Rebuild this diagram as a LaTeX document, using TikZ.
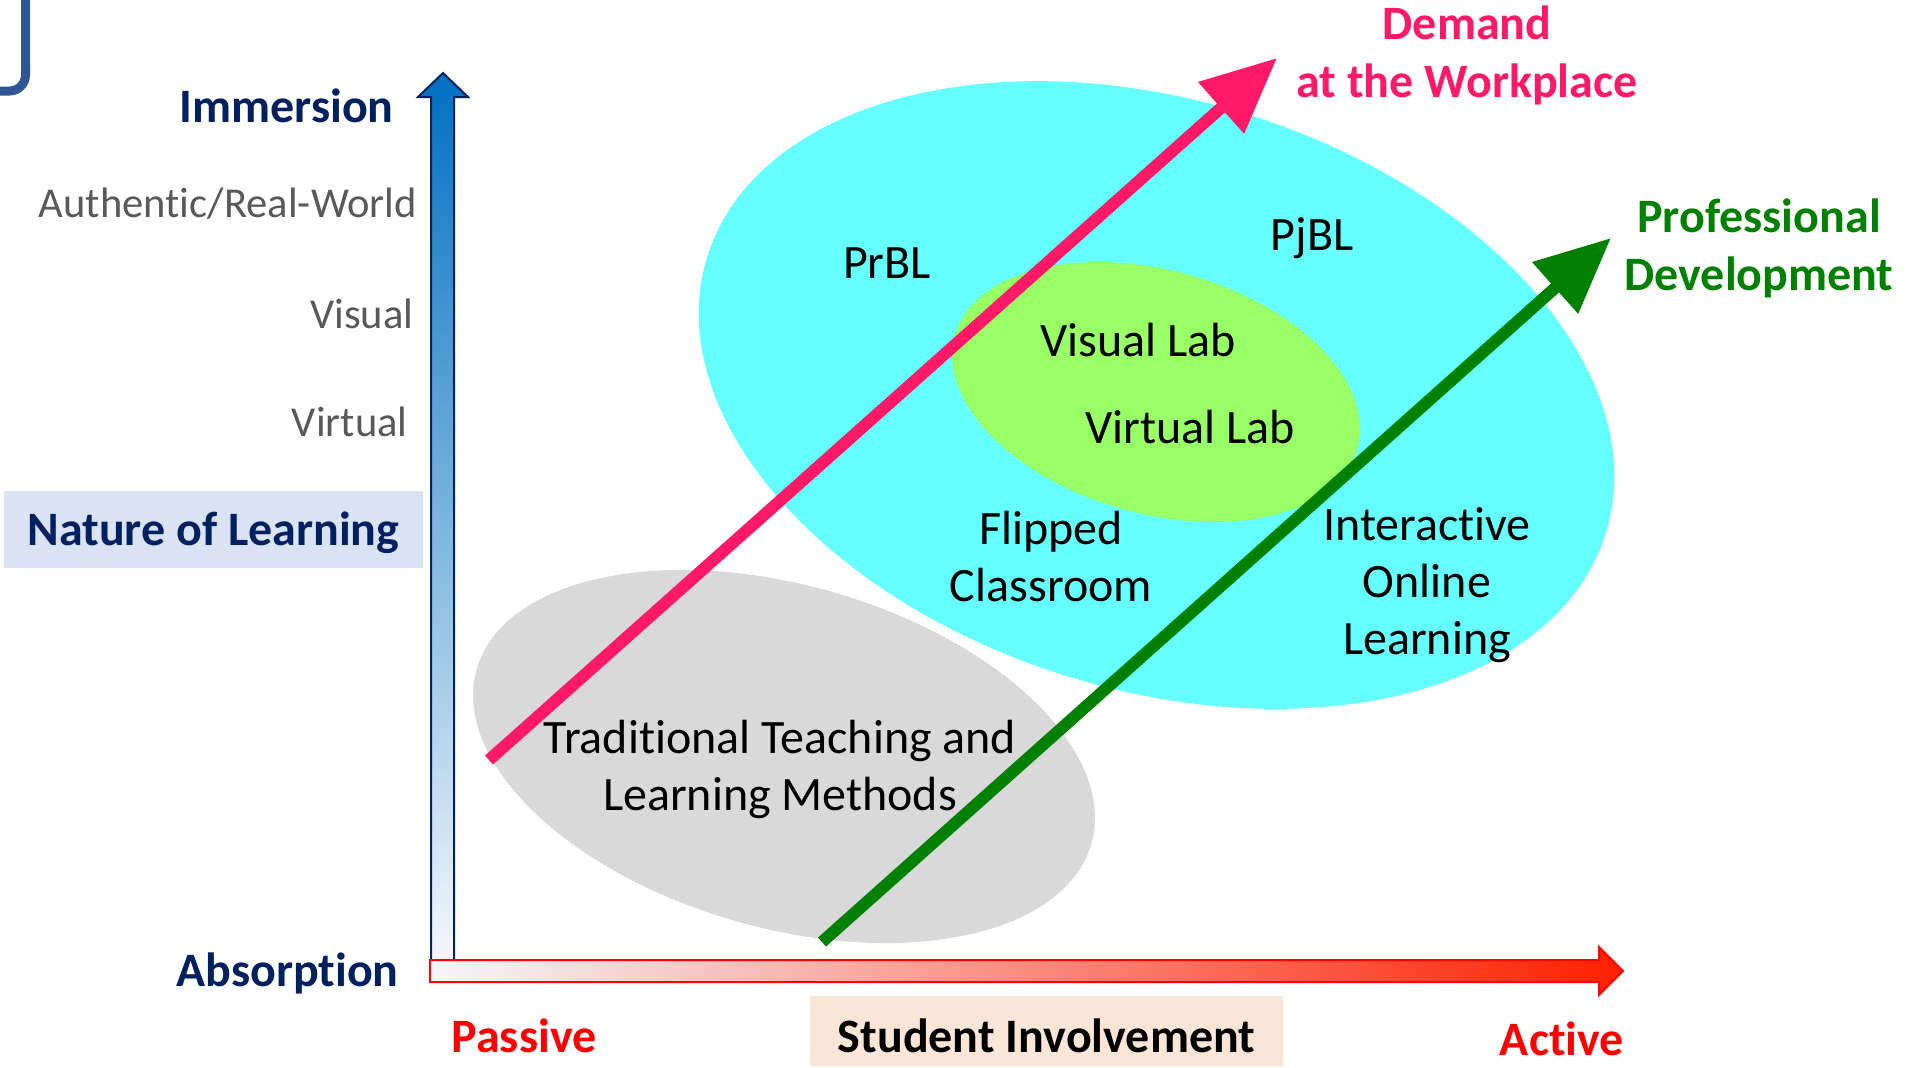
\documentclass[tikz,border=0pt]{standalone}
\usepackage{fontspec}
\setmainfont{Carlito}[Ligatures=NoCommon]
\usetikzlibrary{arrows.meta,shapes.geometric}
\definecolor{navy}{HTML}{002060}
\definecolor{levelgray}{HTML}{595959}
\definecolor{axisblue}{HTML}{0070C0}
\definecolor{axislight}{HTML}{F4F7FC}
\definecolor{axisred}{HTML}{FF2000}
\definecolor{axismid}{HTML}{F9CDD2}
\definecolor{natureblue}{HTML}{DAE3F3}
\definecolor{involvebg}{HTML}{FBE5D6}
\definecolor{demandpink}{HTML}{FF1966}
\definecolor{profgreen}{HTML}{008000}
\definecolor{cyanblob}{HTML}{66FFFF}
\definecolor{limeblob}{HTML}{99FF66}
\definecolor{grayblob}{HTML}{D9D9D9}
\definecolor{framecol}{HTML}{2F5597}
\begin{document}
\begin{tikzpicture}[x=0.5pt,y=-0.5pt,
  blob/.style={ellipse, inner sep=0pt, draw=none},
  inlbl/.style={font=\fontsize{24}{28.5}\selectfont, text=black, align=center, inner sep=0pt},
  boldlbl/.style={font=\fontsize{24}{29}\selectfont\bfseries, align=center, inner sep=0pt},
  levellbl/.style={font=\fontsize{21.3}{26}\selectfont, text=levelgray, inner sep=0pt},
  trend/.style={line width=6pt, -{Triangle[width=33pt,length=37.5pt]}},
]
\useasboundingbox (0,0) rectangle (1908,1067);

% corner of a frame
\draw[framecol, line width=4.5pt, rounded corners=8pt] (25.5,-30) -- (25.5,91) -- (-30,91);

% learning-method regions
\node[blob, fill=grayblob, minimum width=319.5pt, minimum height=171.5pt, rotate=-15.8] (trad) at (784,756.5) {};
\node[blob, fill=cyanblob, minimum width=470pt, minimum height=295pt, rotate=-17] (active) at (1156.5,395) {};
\node[blob, fill=limeblob, minimum width=209pt, minimum height=121.7pt, rotate=-15.6] (lab) at (1156,392) {};

% vertical axis
\path[draw=navy, line width=1pt, top color=axisblue, bottom color=axislight]
  (431,960) -- (431,97) -- (418,97) -- (443,73) -- (468,97) -- (454,97) -- (454,960) -- cycle;
% horizontal axis
\path[draw=red, line width=1pt, left color=axislight, middle color=axismid, right color=axisred]
  (430,960) -- (1599,960) -- (1599,947) -- (1623,971) -- (1599,995) -- (1599,982) -- (430,982) -- cycle;

% trend arrows
\coordinate (pinkS) at (489,760);
\coordinate (pinkE) at (1277,58);
\coordinate (greenS) at (822,942);
\coordinate (greenE) at (1611,238);
\draw[trend, demandpink] (pinkS) -- (pinkE);
\draw[trend, profgreen] (greenS) -- (greenE);

% axis labels
\node[boldlbl, text=navy, anchor=base east] (imm) at (394,122) {Immersion};
\node[levellbl, anchor=base east] (auth) at (417,217) {Authentic/Real-World};
\node[levellbl, anchor=base east] (vis) at (414,328) {Visual};
\node[levellbl, anchor=base east] (virt) at (408,436) {Virtual};
\node[boldlbl, text=navy, fill=natureblue, minimum width=209.5pt, minimum height=38.5pt,
      text height=20pt, text depth=4.5pt] (nature) at (213.5,529.5) {Nature of Learning};
\node[boldlbl, text=navy, anchor=base east] (abs) at (399,986) {Absorption};
\node[boldlbl, text=red, anchor=base] (pass) at (524,1052) {Passive};
\node[boldlbl, text=black, fill=involvebg, minimum width=236.5pt, minimum height=35pt,
      text height=21pt, text depth=0pt] (inv) at (1046.5,1031) {Student Involvement};
\node[boldlbl, text=red, anchor=base] (act) at (1562,1055) {Active};

% arrow labels (anchored at the baseline of the last line)
\node[boldlbl, text=demandpink, anchor=base] (demand) at (1467,97) {Demand\\at the Workplace};
\node[boldlbl, text=profgreen, anchor=base] (prof) at (1759,290) {Professional\\Development};

% method labels
\node[inlbl, anchor=base] (prbl) at (887,278) {PrBL};
\node[inlbl, anchor=base] (pjbl) at (1312,250) {PjBL};
\node[inlbl, anchor=base] (vislab) at (1138,356) {Visual Lab};
\node[inlbl, anchor=base] (virtlab) at (1190,443) {Virtual Lab};
\node[inlbl, anchor=base] (flip) at (1051,601) {Flipped\\Classroom};
\node[inlbl, anchor=base] (online) at (1427,654) {Interactive\\Online\\Learning};
\node[inlbl, anchor=base] (tradlbl) at (780,810) {Traditional Teaching and\\Learning Methods};
\end{tikzpicture}
\end{document}
